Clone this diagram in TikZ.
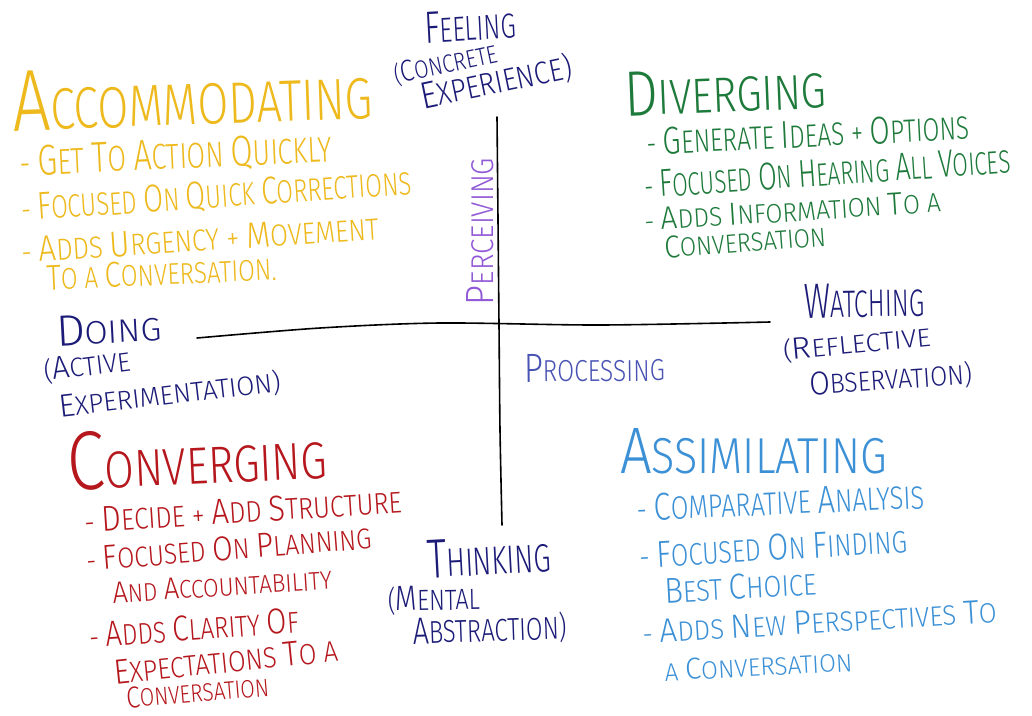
\documentclass[tikz,border=0pt]{standalone}
\usepackage{fontspec}
\setmainfont{Fira Sans Light}
\usepackage{graphicx}

% ink colours
\definecolor{inkyellow}{HTML}{EDB91C}
\definecolor{inknavy}{HTML}{1C1C78}
\definecolor{inkgreen}{HTML}{1D7A3A}
\definecolor{inkred}{HTML}{B5171D}
\definecolor{inkblue}{HTML}{3B90D6}
\definecolor{inkpurple}{HTML}{9159D6}
\definecolor{inkindigo}{HTML}{4853B3}

% a word whose first letter is written larger
\newcommand\cw[2][1.2]{\cwsplit{#1}#2\relax}
\def\cwsplit#1#2#3\relax{\scalebox{#1}{#2}#3}
% brackets that do not count towards the height of a line
\newcommand\lpar{\smash{(}}
\newcommand\rpar{\smash{)}}
% a line of lettering stretched to a given width and height
\newcommand\lettering[3]{\resizebox{#1pt}{#2pt}{#3}}

\tikzset{
  hand/.style={inner sep=0pt, outer sep=0pt, anchor=base west},
  axis/.style={line width=1.6pt, black, line cap=round}
}

\begin{document}
\begin{tikzpicture}[x=1pt,y=-1pt]
\fill[white] (0,0) rectangle (1032,715);
\useasboundingbox (0,0) rectangle (1032,715);

% axes
\coordinate (vtop) at (497,117);
\coordinate (vmid) at (499,325);
\coordinate (vbot) at (502,525);
\coordinate (hleft) at (197,338);
\coordinate (hmid) at (440,323);
\coordinate (hright) at (770,322);
\draw[axis] plot[smooth] coordinates {(vtop) (498,220) (vmid) (500,430) (vbot)};
\draw[axis] plot[smooth] coordinates {(hleft) (320,328) (hmid) (600,325) (hright)};

% axis labels
\begin{scope}[inknavy]
\node[hand, rotate=3] (feel) at (425,43) {\lettering{92}{31}{\cw[1.3]{FEELING}}};
\node[hand, rotate=12] (feel2) at (396,84) {\lettering{105}{21}{\lpar\cw{CONCRETE}}};
\node[hand, rotate=11.7] (feel3) at (423,109) {\lettering{154}{26}{\cw{EXPERIENCE}\rpar}};
\node[hand, rotate=3] (do) at (57,346) {\lettering{105}{30}{\cw[1.35]{DOING}}};
\node[hand, rotate=7] (do2) at (45,381) {\lettering{87}{22}{\lpar\cw{ACTIVE}}};
\node[hand, rotate=6.6] (do3) at (60,417) {\lettering{223}{22}{\cw{EXPERIMENTATION}\rpar}};
\node[hand, rotate=1] (watch) at (804,318) {\lettering{121}{34}{\cw[1.3]{WATCHING}}};
\node[hand, rotate=5.4] (watch2) at (784,360) {\lettering{148}{21}{\lpar\cw{REFLECTIVE}}};
\node[hand, rotate=3.9] (watch3) at (810,395) {\lettering{163}{23}{\cw{OBSERVATION}\rpar}};
\node[hand, rotate=3] (think) at (428,578) {\lettering{124}{38}{\cw[1.4]{THINKING}}};
\node[hand, rotate=1] (think2) at (388,611) {\lettering{92}{24}{\lpar\cw{MENTAL}}};
\node[hand, rotate=2] (think3) at (413,644) {\lettering{154}{26}{\cw{ABSTRACTION}\rpar}};
\end{scope}
\node[hand, inkpurple, rotate=90] (perc) at (493,305) {\lettering{147}{27}{\cw[1.25]{PERCEIVING}}};
\node[hand, inkindigo, rotate=0.5] (proc) at (524,382) {\lettering{141}{28}{\cw[1.35]{PROCESSING}}};

% accommodating
\begin{scope}[inkyellow]
\node[hand, rotate=2] (acc) at (13,131) {\lettering{360}{60}{\cw[1.5]{ACCOMMODATING}}};
\node[hand, rotate=2.6] (acc1) at (20,176) {\lettering{313}{30}{- \cw{GET} \cw{TO} \cw{ACTION} \cw{QUICKLY}}};
\node[hand, rotate=3.9] (acc2) at (22,221) {\lettering{391}{27}{- \cw{FOCUSED} \cw{ON} \cw{QUICK} \cw{CORRECTIONS}}};
\node[hand, rotate=3.8] (acc3) at (22,263) {\lettering{358}{25}{- \cw{ADDS} \cw{URGENCY} + \cw{MOVEMENT}}};
\node[hand, rotate=2.5] (acc4) at (47,290) {\lettering{230}{25}{\cw{TO} A \cw{CONVERSATION}.}};
\end{scope}

% diverging
\begin{scope}[inkgreen]
\node[hand, rotate=2.3] (div) at (625,116) {\lettering{202}{44}{\cw[1.3]{DIVERGING}}};
\node[hand, rotate=2.8] (div1) at (647,155) {\lettering{323}{27}{- \cw{GENERATE} \cw{IDEAS} + \cw{OPTIONS}}};
\node[hand, rotate=3.9] (div2) at (645,198) {\lettering{367}{27}{- \cw{FOCUSED} \cw{ON} \cw{HEARING} \cw{ALL} \cw{VOICES}}};
\node[hand, rotate=3.7] (div3) at (645,231) {\lettering{297}{22}{- \cw{ADDS} \cw{INFORMATION} \cw{TO} A}};
\node[hand, rotate=4.3] (div4) at (665,258) {\lettering{162}{22}{\cw{CONVERSATION}}};
\end{scope}

% converging
\begin{scope}[inkred]
\node[hand, rotate=2.6] (conv) at (68,490) {\lettering{260}{58}{\cw[1.6]{CONVERGING}}};
\node[hand, rotate=3.7] (conv1) at (85,533) {\lettering{318}{25}{- \cw{DECIDE} + \cw{ADD} \cw{STRUCTURE}}};
\node[hand, rotate=4.5] (conv2) at (87,571) {\lettering{286}{24}{- \cw{FOCUSED} \cw{ON} \cw{PLANNING}}};
\node[hand, rotate=3.6] (conv3) at (113,603) {\lettering{220}{21}{\cw{AND} \cw{ACCOUNTABILITY}}};
\node[hand, rotate=4.2] (conv4) at (90,648) {\lettering{210}{25}{- \cw{ADDS} \cw{CLARITY} \cw{OF}}};
\node[hand, rotate=5.8] (conv5) at (115,684) {\lettering{225}{24}{\cw{EXPECTATIONS} \cw{TO} A}};
\node[hand, rotate=4.8] (conv6) at (127,708) {\lettering{143}{21}{\cw{CONVERSATION}}};
\end{scope}

% assimilating
\begin{scope}[inkblue]
\node[hand] (assim) at (620,473) {\lettering{267}{45}{\cw[1.3]{ASSIMILATING}}};
\node[hand, rotate=2.5] (assim1) at (637,521) {\lettering{288}{27}{- \cw{COMPARATIVE} \cw{ANALYSIS}}};
\node[hand, rotate=3.3] (assim2) at (640,568) {\lettering{268}{26}{- \cw{FOCUSED} \cw{ON} \cw{FINDING}}};
\node[hand, rotate=3] (assim3) at (665,603) {\lettering{152}{25}{\cw{BEST} \cw{CHOICE}}};
\node[hand, rotate=3.5] (assim4) at (643,644) {\lettering{355}{23}{- \cw{ADDS} \cw{NEW} \cw{PERSPECTIVES} \cw{TO}}};
\node[hand, rotate=3] (assim5) at (665,681) {\lettering{188}{21}{A \cw{CONVERSATION}}};
\end{scope}
\end{tikzpicture}
\end{document}
